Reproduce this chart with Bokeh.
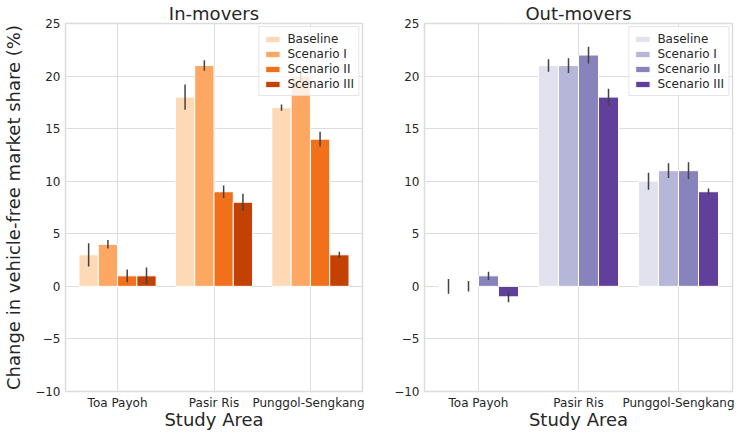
from bokeh.plotting import figure
from bokeh.models import ColumnDataSource, FactorRange, SingleIntervalTicker, Legend, LegendItem
from bokeh.transform import dodge
from bokeh.layouts import row
from bokeh.embed import file_html
from bokeh.resources import INLINE

categories = ["Toa Payoh", "Pasir Ris", "Punggol-Sengkang"]
scenarios = ["Baseline", "Scenario I", "Scenario II", "Scenario III"]

in_baseline = [3, 18, 17]
in_scen1 = [4, 21, 20]
in_scen2 = [1, 9, 14]
in_scen3 = [1, 8, 3]
in_err_baseline = [1.1, 1.2, 0.3]
in_err_scen1 = [0.4, 0.5, 0.5]
in_err_scen2 = [0.6, 0.6, 0.7]
in_err_scen3 = [0.8, 0.8, 0.3]

out_baseline = [0, 21, 10]
out_scen1 = [0, 21, 11]
out_scen2 = [1, 22, 11]
out_scen3 = [-1, 18, 9]
out_err_baseline = [0.7, 0.6, 0.8]
out_err_scen1 = [0.5, 0.7, 0.7]
out_err_scen2 = [0.4, 0.8, 0.8]
out_err_scen3 = [0.5, 0.8, 0.3]

oranges = ["#fdd9b5", "#fda762", "#f3701b", "#c34102"]
purples = ["#e2e1ee", "#b6b6d8", "#8683bd", "#61409b"]

FONT = "DejaVu Sans"
TXT = "#262626"
GRID = "#dcdcdc"


def make_panel(title, vals, errs, colors, width, border_left, border_right, ylabel):
    p = figure(x_range=FactorRange(*categories, range_padding=0.08 / 3),
               y_range=(-10, 25), width=width, height=432,
               output_backend="svg", toolbar_location=None,
               min_border_left=border_left, min_border_right=border_right,
               min_border_top=18, min_border_bottom=0)
    p.title.text = title
    p.title.align = "center"
    p.title.text_font = FONT
    p.title.text_font_size = "18px"
    p.title.text_font_style = "normal"
    p.title.text_color = TXT
    p.title.standoff = 0
    offsets = [-0.3, -0.1, 0.1, 0.3]
    items = []
    for name, v, e, c, off in zip(scenarios, vals, errs, colors, offsets):
        src = ColumnDataSource(dict(cat=categories, val=v,
                                    lo=[a - b for a, b in zip(v, e)],
                                    hi=[a + b for a, b in zip(v, e)]))
        r = p.vbar(x=dodge("cat", off, range=p.x_range), top="val", bottom=0,
                   width=0.2, source=src, fill_color=c, line_color="white",
                   line_width=1)
        p.segment(x0=dodge("cat", off, range=p.x_range), x1=dodge("cat", off, range=p.x_range),
                  y0="lo", y1="hi", source=src, line_color="#424242", line_width=1.5)
        items.append(LegendItem(label=name, renderers=[r]))
    leg = Legend(items=items, location="top_right", margin=3, padding=4, spacing=0,
                 label_height=15, glyph_height=8, glyph_width=18, label_standoff=6,
                 label_text_font=FONT, label_text_font_size="12px", label_text_color=TXT,
                 border_line_color="#cccccc", background_fill_alpha=0.8)
    p.add_layout(leg)

    p.yaxis.ticker = SingleIntervalTicker(interval=5)
    p.yaxis.major_label_overrides = {-10: "\u221210", -5: "\u22125"}
    for ax in (p.xaxis[0], p.yaxis[0]):
        ax.axis_line_color = None
        ax.major_tick_line_color = None
        ax.minor_tick_line_color = None
        ax.major_tick_out = 0
        ax.major_tick_in = 0
        ax.minor_tick_out = 0
        ax.minor_tick_in = 0
        ax.major_label_text_font = FONT
        ax.major_label_text_font_size = "12px"
        ax.major_label_text_color = TXT
        ax.axis_label_text_font = FONT
        ax.axis_label_text_font_size = "18px"
        ax.axis_label_text_font_style = "normal"
        ax.axis_label_text_color = TXT
        ax.major_label_standoff = 5
    p.xaxis.major_label_standoff = 4
    p.xaxis.axis_label = "Study Area"
    p.xaxis.axis_label_standoff = -4
    if ylabel:
        p.yaxis.axis_label = ylabel
        p.yaxis.axis_label_standoff = 8
    p.xgrid.grid_line_color = GRID
    p.ygrid.grid_line_color = GRID
    p.outline_line_color = GRID
    p.outline_line_width = 1.5
    return p


p1 = make_panel("In-movers",
                [in_baseline, in_scen1, in_scen2, in_scen3],
                [in_err_baseline, in_err_scen1, in_err_scen2, in_err_scen3],
                oranges, 364, 54, 2, "Change in vehicle-free market share (%)")
p2 = make_panel("Out-movers",
                [out_baseline, out_scen1, out_scen2, out_scen3],
                [out_err_baseline, out_err_scen1, out_err_scen2, out_err_scen3],
                purples, 372, 60, 4, None)

layout = row(p1, p2)
open("out.html", "w").write(file_html(layout, INLINE))
